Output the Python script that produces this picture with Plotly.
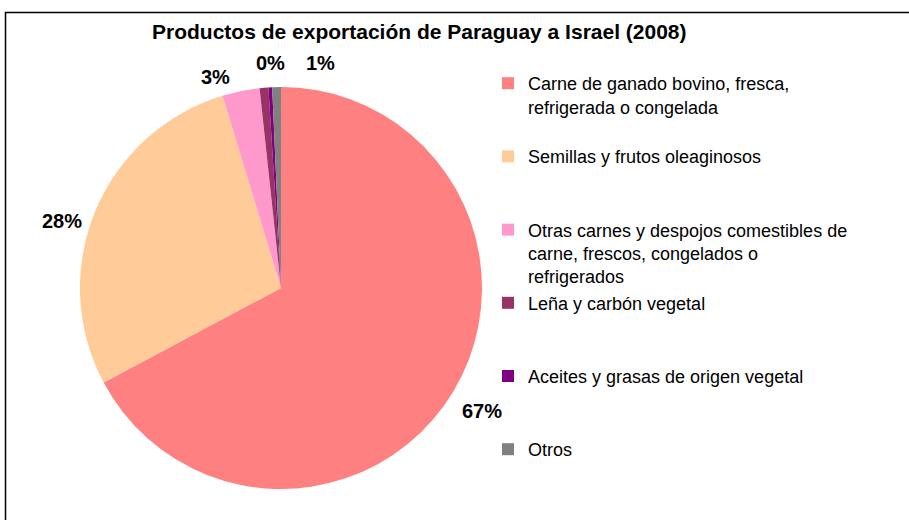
import math
import plotly.graph_objects as go

W, H = 909, 520

title = "Productos de exportación de Paraguay a Israel (2008)"
categories = [
    "Carne de ganado bovino, fresca,<br>refrigerada o congelada",
    "Semillas y frutos oleaginosos",
    "Otras carnes y despojos comestibles de<br>carne, frescos, congelados o<br>refrigerados",
    "Leña y carbón vegetal",
    "Aceites y grasas de origen vegetal",
    "Otros",
]
values = [67.2, 28.1, 3.0, 0.7, 0.3, 0.7]
colors = ["#FF8080", "#FFCC99", "#FF99CC", "#993366", "#800080", "#808080"]
show_label = [True, True, True, False, True, True]
# pixel nudges for data labels (Excel best-fit placement)
label_nudge = [(8, 7), (-11, 19), (-21, 10), (0, 0), (2, 0), (44, 0)]

# pie geometry (pixels)
CX, CY, R = 281, 288, 201
LINES_PER_SLOT = 3

def pad(label, last):
    if last:
        return label
    n = label.count("<br>") + 1
    return label + "<br> " * (LINES_PER_SLOT - n)

fig = go.Figure()
fig.add_trace(go.Pie(
    labels=[pad(c, i == len(categories) - 1) for i, c in enumerate(categories)],
    values=values,
    sort=False,
    direction="clockwise",
    rotation=0,
    marker=dict(colors=colors, line=dict(width=0)),
    textinfo="none",
    hoverinfo="label+percent",
    domain=dict(x=[(CX - R) / W, (CX + R) / W], y=[1 - (CY + R) / H, 1 - (CY - R) / H]),
))

total = sum(values)
cum = 0.0
annotations = []
for v, show, (dx, dy) in zip(values, show_label, label_nudge):
    mid = (cum + v / 2) / total * 2 * math.pi
    cum += v
    if not show:
        continue
    px = CX + 1.12 * R * math.sin(mid) + dx
    py = CY - 1.12 * R * math.cos(mid) + dy
    annotations.append(dict(
        x=px / W, y=1 - py / H, xref="paper", yref="paper",
        text=f"{round(v / total * 100):.0f}%", showarrow=False,
        xanchor="center", yanchor="middle",
        font=dict(family="Liberation Sans, Arial", size=20, color="black", weight="bold"),
    ))

annotations.append(dict(
    x=419 / W, y=1 - 31 / H, xref="paper", yref="paper", text=f"<b>{title}</b>",
    showarrow=False, xanchor="center", yanchor="middle",
    font=dict(family="Liberation Sans, Arial", size=21, color="black"),
))

fig.update_layout(
    width=W, height=H,
    margin=dict(l=0, r=0, t=0, b=0, autoexpand=False),
    paper_bgcolor="white",
    showlegend=True,
    legend=dict(
        x=488 / W, y=1 - 65 / H, xanchor="left", yanchor="top",
        font=dict(family="Liberation Sans, Arial", size=18, color="black"),
        valign="top", bgcolor="rgba(0,0,0,0)", borderwidth=0,
    ),
    annotations=annotations,
    shapes=[dict(type="rect", xref="paper", yref="paper",
                 x0=5.5 / W, y0=-0.05, x1=1.05, y1=1 - 12.5 / H,
                 line=dict(color="black", width=1.5))],
)

fig.write_html("out.html")
